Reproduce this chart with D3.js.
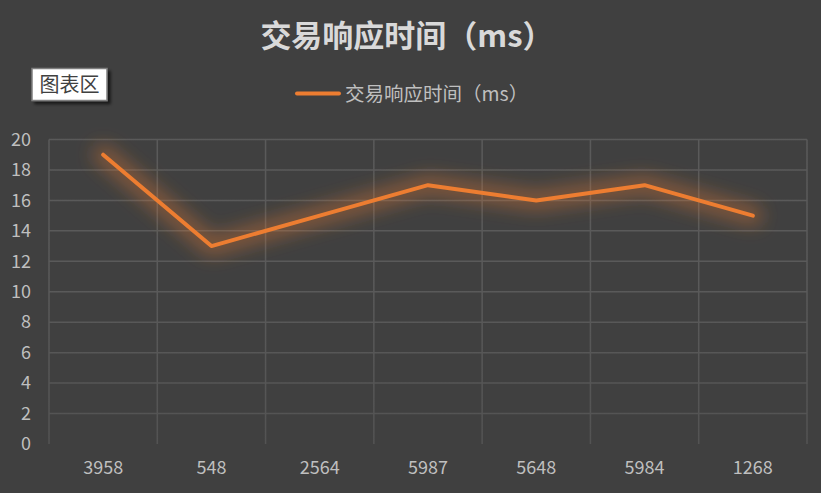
<!DOCTYPE html>
<html>
<head>
<meta charset="utf-8">
<script src="https://cdn.jsdelivr.net/npm/d3@7"></script>
<style>
  body { margin: 0; background: #404040; }
  svg { display: block; }
</style>
</head>
<body>
<script>
const categories = ['3958', '548', '2564', '5987', '5648', '5984', '1268'];
const responseTimes = [19, 13, 15, 17, 16, 17, 15];
const yTicks = [0, 2, 4, 6, 8, 10, 12, 14, 16, 18, 20];
const chartTitle = '交易响应时间（ms）';
const seriesName = '交易响应时间（ms）';

const W = 821, H = 493;
const margin = {top: 139.5, right: 14, bottom: 49, left: 49};
const width = W - margin.left - margin.right,
      height = H - margin.top - margin.bottom;
const font = "'Noto Sans CJK SC', 'Noto Sans', sans-serif";

const svg = d3.select('body').append('svg')
    .attr('width', W)
    .attr('height', H);

svg.append('rect').attr('width', W).attr('height', H).attr('fill', '#404040');

const defs = svg.append('defs');
const fade = defs.append('linearGradient')
    .attr('id', 'gridFade')
    .attr('gradientUnits', 'userSpaceOnUse')
    .attr('x1', 0).attr('y1', margin.top)
    .attr('x2', 0).attr('y2', margin.top + height);
fade.append('stop').attr('offset', '0%').attr('stop-color', '#5a5a5a');
fade.append('stop').attr('offset', '55%').attr('stop-color', '#535353');
fade.append('stop').attr('offset', '80%').attr('stop-color', '#4a4a4a');
fade.append('stop').attr('offset', '92%').attr('stop-color', '#434343');
fade.append('stop').attr('offset', '100%').attr('stop-color', '#404040');

const glow = defs.append('filter').attr('id', 'glow')
    .attr('x', '-20%').attr('y', '-60%').attr('width', '140%').attr('height', '220%');
glow.append('feGaussianBlur').attr('in', 'SourceGraphic').attr('stdDeviation', 9);

const shadow = defs.append('filter').attr('id', 'shadow')
    .attr('x', '-20%').attr('y', '-20%').attr('width', '150%').attr('height', '150%');
shadow.append('feDropShadow').attr('dx', 3).attr('dy', 3)
    .attr('stdDeviation', 1.5).attr('flood-color', '#000').attr('flood-opacity', 0.6);

const g = svg.append('g')
    .attr('transform', 'translate(' + margin.left + ',' + margin.top + ')');

const x = d3.scaleBand().domain(categories).range([0, width]);
const y = d3.scaleLinear().domain([0, 20]).range([height, 0]);

// horizontal grid
g.append('g')
  .selectAll('line')
  .data(yTicks.filter(d => d > 0))
  .join('line')
    .attr('x1', 0).attr('x2', width)
    .attr('y1', d => y(d)).attr('y2', d => y(d))
    .attr('stroke', 'url(#gridFade)')
    .attr('stroke-width', 1.5);

// vertical grid (category boundaries)
const bounds = categories.map(c => x(c)).concat([width]);
g.append('g')
  .selectAll('line')
  .data(bounds)
  .join('line')
    .attr('x1', d => d).attr('x2', d => d)
    .attr('y1', 0).attr('y2', height)
    .attr('stroke', 'url(#gridFade)')
    .attr('stroke-width', 1.5);

// y axis labels
const yAxis = g.append('g')
    .call(d3.axisLeft(y).tickValues(yTicks).tickSize(0).tickPadding(18));
yAxis.select('.domain').remove();
yAxis.selectAll('text')
    .attr('fill', '#bfbfbf')
    .style('font-family', font)
    .style('font-size', '18px');

// x axis labels
const xAxis = g.append('g')
    .attr('transform', 'translate(0,' + height + ')')
    .call(d3.axisBottom(x).tickSize(0).tickPadding(17));
xAxis.select('.domain').remove();
xAxis.selectAll('text')
    .attr('fill', '#bfbfbf')
    .style('font-family', font)
    .style('font-size', '18px');

const line = d3.line()
    .x((d, i) => x(categories[i]) + x.bandwidth() / 2)
    .y(d => y(d));

// glow
g.append('path')
    .datum(responseTimes)
    .attr('fill', 'none')
    .attr('stroke', '#ed7d31')
    .attr('stroke-opacity', 0.38)
    .attr('stroke-width', 20)
    .attr('stroke-linejoin', 'round')
    .attr('stroke-linecap', 'round')
    .attr('filter', 'url(#glow)')
    .attr('d', line);

g.append('path')
    .datum(responseTimes)
    .attr('fill', 'none')
    .attr('stroke', '#ed7d31')
    .attr('stroke-width', 4)
    .attr('stroke-linejoin', 'round')
    .attr('stroke-linecap', 'round')
    .attr('d', line);

// title
svg.append('text')
    .attr('x', 407).attr('y', 47)
    .attr('text-anchor', 'middle')
    .attr('fill', '#d9d9d9')
    .style('font-family', font)
    .style('font-size', '31px')
    .style('font-weight', 'bold')
    .text(chartTitle);

// legend
svg.append('line')
    .attr('x1', 297).attr('x2', 339)
    .attr('y1', 93.5).attr('y2', 93.5)
    .attr('stroke', '#ed7d31')
    .attr('stroke-width', 4)
    .attr('stroke-linecap', 'round');
svg.append('text')
    .attr('x', 345).attr('y', 101)
    .attr('fill', '#bfbfbf')
    .style('font-family', font)
    .style('font-size', '19.5px')
    .text(seriesName);

// hover label box
svg.append('rect')
    .attr('x', 32).attr('y', 68.5)
    .attr('width', 75).attr('height', 32)
    .attr('fill', '#ffffff')
    .attr('stroke', '#7f7f7f')
    .attr('stroke-width', 1.5)
    .attr('filter', 'url(#shadow)');
svg.append('text')
    .attr('x', 69.5).attr('y', 92)
    .attr('text-anchor', 'middle')
    .attr('fill', '#404040')
    .style('font-family', font)
    .style('font-size', '20px')
    .text('图表区');
</script>
</body>
</html>
